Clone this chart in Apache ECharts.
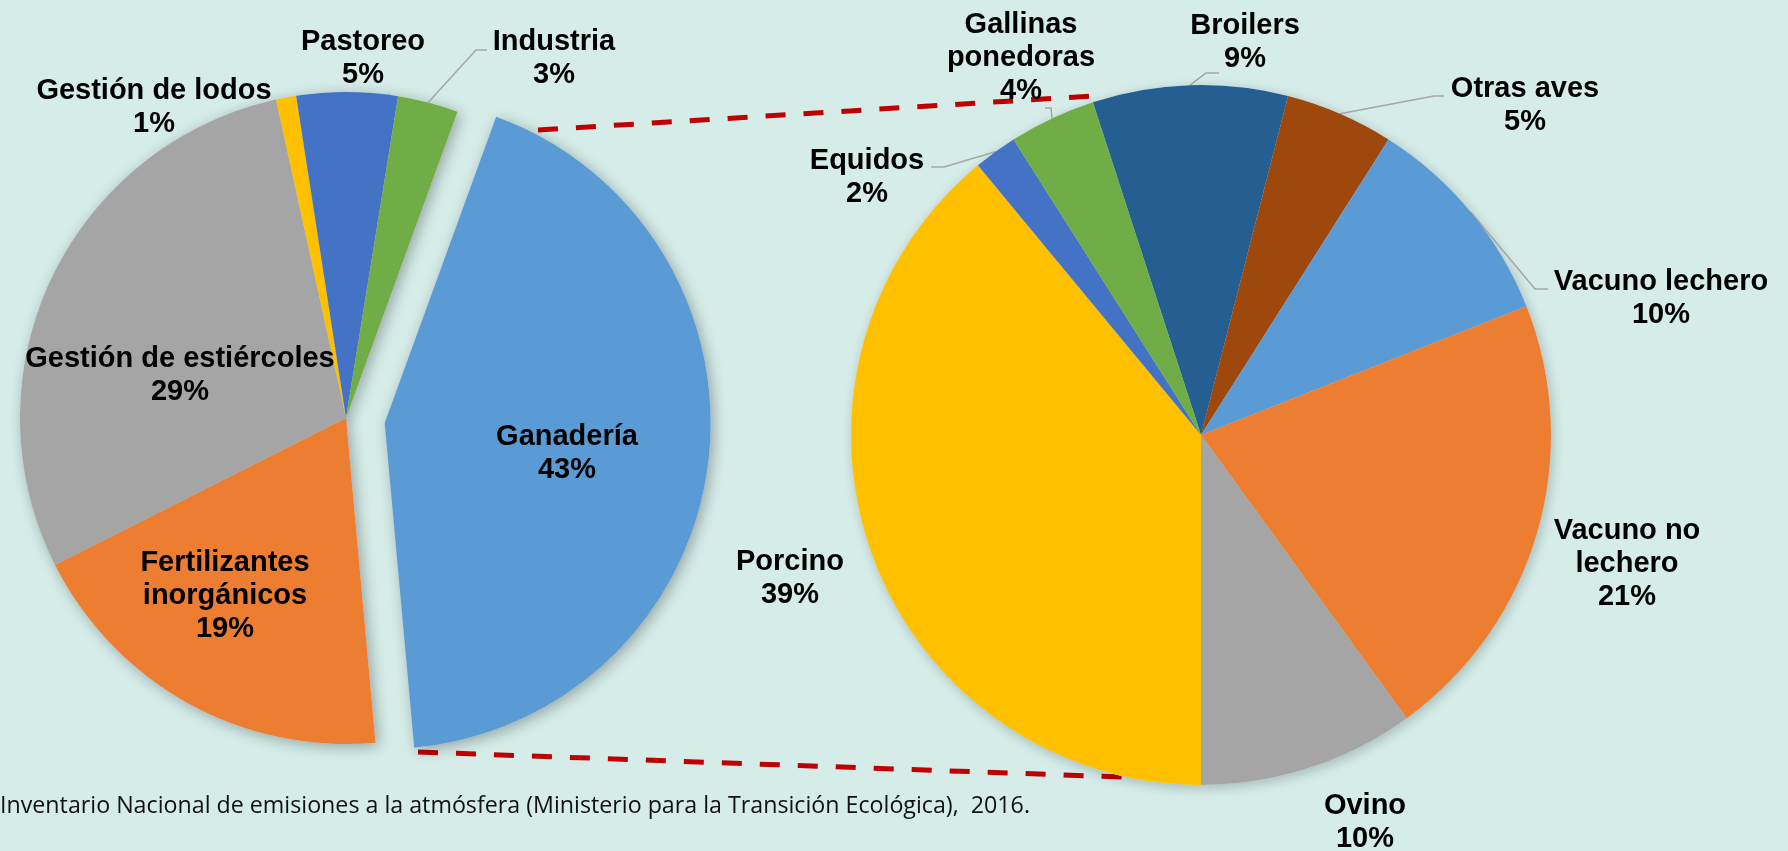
<!DOCTYPE html>
<html>
<head>
<meta charset="utf-8">
<script src="https://cdn.jsdelivr.net/npm/echarts@6/dist/echarts.min.js"></script>
<style>
  html, body { margin: 0; padding: 0; background: #d5ece9; }
  #chart { width: 1788px; height: 851px; }
</style>
</head>
<body>
<div id="chart"></div>
<script>
// reparto por sector (izquierda)
const sectores = ['Ganadería', 'Fertilizantes\ninorgánicos', 'Gestión de estiércoles', 'Gestión de lodos', 'Pastoreo', 'Industria'];
const sectoresPct = [43, 19, 29, 1, 5, 3];

// ganadería por especie (derecha)
const especies = ['Broilers', 'Otras aves', 'Vacuno lechero', 'Vacuno no\nlechero', 'Ovino', 'Porcino', 'Equidos', 'Gallinas\nponedoras'];
const especiesPct = [9, 5, 10, 21, 10, 39, 2, 4];

const fuente = 'Inventario Nacional de emisiones a la atmósfera (Ministerio para la Transición Ecológica),  2016.';

const coloresIzq = ['#5B9BD5', '#ED7D31', '#A5A5A5', '#FFC000', '#4472C4', '#70AD47'];
const coloresDer = ['#255E91', '#9E480E', '#5B9BD5', '#ED7D31', '#A5A5A5', '#FFC000', '#4472C4', '#70AD47'];

// centro de cada etiqueta
const posIzq = [[567, 453], [225, 596], [180, 375], [154, 107], [363, 58], [554, 58]];
const posDer = [[1245, 42], [1525, 105], [1661, 298], [1627, 564], [1365, 822], [790, 578], [867, 177], [1021, 58]];
// lineas guia: [dx, dy del final respecto a la etiqueta, tramo horizontal]
const guiasIzq = [null, null, null, null, null, [-67, -8, -11]];
const guiasDer = [[-26, 31, -13], [-81, -9, -10], [-113, -9, -13], null, null, null, [64, -10, 13], [24, 50, 6]];

const fondo = '#d5ece9';
const centroIzq = [346, 418], radioIzq = 326, inicioIzq = 70, separacion = 39;
const centroDer = [1201, 435], radioDer = 350, inicioDer = 108;

// centro desplazado de la porcion separada (Ganaderia), segun su angulo medio
const totalIzq = sectoresPct.reduce(function (a, b) { return a + b; }, 0);
const medio = (inicioIzq - sectoresPct[0] / totalIzq * 180) * Math.PI / 180;
const centroSep = [centroIzq[0] + separacion * Math.cos(medio), centroIzq[1] - separacion * Math.sin(medio)];

function colocar(pos, guias) {
  return function (p) {
    const c = pos[p.dataIndex];
    const out = { x: c[0], y: c[1], align: 'center', verticalAlign: 'middle' };
    const g = guias[p.dataIndex];
    if (g && p.labelLinePoints) {
      const ini = p.labelLinePoints[0];
      const fin = [c[0] + g[0], c[1] + g[1]];
      out.labelLinePoints = [ini, [fin[0] + g[2], fin[1]], fin];
    }
    return out;
  };
}

const etiqueta = {
  show: true,
  position: 'outside',
  formatter: '{b}\n{c}%',
  color: '#000',
  fontFamily: '"Liberation Sans", Arial, sans-serif',
  fontWeight: 'bold',
  fontSize: 29,
  lineHeight: 33
};
const linea = { show: true, length: 10, length2: 10, lineStyle: { color: '#A6A6A6', width: 1.5 } };

// visible(i): si la porcion i se dibuja en esta serie
function datos(nombres, valores, colores, guias, visible) {
  return nombres.map(function (n, i) {
    const v = visible(i);
    return {
      name: n, value: valores[i],
      itemStyle: { color: colores[i], opacity: v ? 1 : 0 },
      label: { show: v },
      labelLine: { show: v && !!guias[i] }
    };
  });
}
function sombras(nombres, valores, visible) {
  return nombres.map(function (n, i) {
    return { name: n, value: valores[i], itemStyle: { opacity: visible(i) ? 1 : 0 } };
  });
}
const todas = function () { return true; };
const resto = function (i) { return i !== 0; };
const separada = function (i) { return i === 0; };

const chart = echarts.init(document.getElementById('chart'));

const ctx = document.createElement('canvas').getContext('2d');
ctx.font = '24px "Open Sans"';
const escala = 1030 / ctx.measureText(fuente).width;

const comun = {
  type: 'pie',
  clockwise: true,
  avoidLabelOverlap: false,
  emphasis: { disabled: true }
};
const sombraIzq = { color: fondo, shadowBlur: 14, shadowColor: 'rgba(0,0,0,0.3)', shadowOffsetX: 3, shadowOffsetY: 3 };
const sombraDer = { color: fondo, shadowBlur: 12, shadowColor: 'rgba(0,0,0,0.22)', shadowOffsetX: 2, shadowOffsetY: 3 };

function serieSombra(centro, radio, inicio, estilo, nombres, valores, visible) {
  return Object.assign({}, comun, {
    silent: true, z: 1, center: centro, radius: radio, startAngle: inicio,
    label: { show: false }, labelLine: { show: false }, itemStyle: estilo,
    data: sombras(nombres, valores, visible)
  });
}
function serie(centro, radio, inicio, nombres, valores, colores, pos, guias, visible) {
  return Object.assign({}, comun, {
    z: 2, center: centro, radius: radio, startAngle: inicio,
    itemStyle: { borderWidth: 0 },
    label: etiqueta, labelLine: linea,
    labelLayout: colocar(pos, guias),
    data: datos(nombres, valores, colores, guias, visible)
  });
}

chart.setOption({
  animation: false,
  backgroundColor: fondo,
  graphic: [
    { type: 'line', z: 0, shape: { x1: 538, y1: 130, x2: 1093, y2: 96 },
      style: { stroke: '#C00000', lineWidth: 5, lineDash: [20, 18] } },
    { type: 'line', z: 0, shape: { x1: 418, y1: 752, x2: 1122, y2: 777 },
      style: { stroke: '#C00000', lineWidth: 5, lineDash: [20, 18] } },
    { type: 'text', x: 0, y: 806, scaleX: escala,
      style: { text: fuente, x: 0, y: 0, font: '24px "Open Sans"', fill: '#111', align: 'left', verticalAlign: 'middle' } }
  ],
  series: [
    serieSombra(centroIzq, radioIzq, inicioIzq, sombraIzq, sectores, sectoresPct, resto),
    serieSombra(centroSep, radioIzq, inicioIzq, sombraIzq, sectores, sectoresPct, separada),
    serieSombra(centroDer, radioDer, inicioDer, sombraDer, especies, especiesPct, todas),
    serie(centroIzq, radioIzq, inicioIzq, sectores, sectoresPct, coloresIzq, posIzq, guiasIzq, resto),
    serie(centroSep, radioIzq, inicioIzq, sectores, sectoresPct, coloresIzq, posIzq, guiasIzq, separada),
    serie(centroDer, radioDer, inicioDer, especies, especiesPct, coloresDer, posDer, guiasDer, todas)
  ]
});
</script>
</body>
</html>
